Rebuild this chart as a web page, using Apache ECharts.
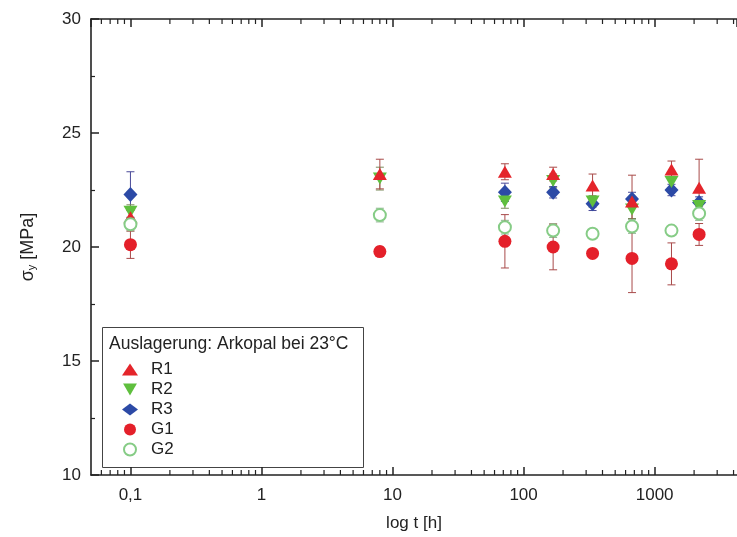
<!DOCTYPE html>
<html>
<head>
<meta charset="utf-8">
<script src="https://cdn.jsdelivr.net/npm/echarts@6/dist/echarts.min.js"></script>
<style>html,body{margin:0;padding:0;background:#fff}#c{width:737px;height:537px}</style>
</head>
<body>
<div id="c"></div>
<script>
const times = [0.1, 8, 72, 168, 336, 672, 1344, 2184];
const R1 = [21.3, 23.2, 23.3, 23.2, 22.7, 22.0, 23.4, 22.6];
const R1err = [0.3, 0.65, 0.35, 0.3, 0.5, 1.15, 0.37, 1.25];
const R2 = [21.55, 23.0, 22.0, 22.9, 22.0, 21.65, 22.85, 21.8];
const R2err = [0.3, 0.5, 0.3, 0.3, 0.25, 0.4, 0.25, 0.25];
const R3 = [22.3, null, 22.4, 22.4, 21.9, 22.1, 22.5, 21.95];
const R3err = [1.0, null, 0.4, 0.25, 0.3, 0.3, 0.25, 0.25];
const G1 = [20.1, 19.8, 20.25, 20.0, 19.72, 19.5, 19.26, 20.55];
const G1err = [0.6, 0.2, 1.17, 1.0, 0.15, 1.5, 0.92, 0.48];
const G2 = [21.0, 21.4, 20.87, 20.72, 20.58, 20.9, 20.72, 21.47];
const G2err = [0.3, 0.3, 0.3, 0.3, 0.2, 0.3, 0.2, 0.3];
const xTickLabels = {0.1: '0,1', 1: '1', 10: '10', 100: '100', 1000: '1000'};
const yTicks = [10, 15, 20, 25, 30];
const legendTitle = 'Auslagerung: Arkopal bei 23°C';

const XMIN = 0.05, XMAX = 4250, YMIN = 10, YMAX = 30;
const FONT = '"Liberation Sans", Arial, sans-serif';
const DOWN_TRI = 'path://M0,0 L10,0 L5,8.66 Z';

// minor tick positions (2..9 per decade) for the log axis
const minorTicks = [];
[0.01, 0.1, 1, 10, 100, 1000].forEach(d => {
  for (let m = 2; m <= 9; m++) {
    const v = +(d * m).toPrecision(3);
    if (v > XMIN && v < XMAX) minorTicks.push([v, YMIN]);
  }
});

function pts(vals) {
  return times.map((t, i) => vals[i] == null ? null : [t, vals[i]]).filter(Boolean);
}
function errs(vals, e) {
  return times.map((t, i) => vals[i] == null ? null : [t, vals[i] - e[i], vals[i] + e[i]]).filter(Boolean);
}
function errSeries(vals, e, color) {
  return {
    type: 'custom', silent: true, z: 1,
    data: errs(vals, e),
    renderItem: function (params, api) {
      const x = api.value(0);
      const lo = api.coord([x, api.value(1)]);
      const hi = api.coord([x, api.value(2)]);
      const w = 4;
      const st = {stroke: color, lineWidth: 1};
      return {type: 'group', children: [
        {type: 'line', shape: {x1: lo[0], y1: lo[1], x2: hi[0], y2: hi[1]}, style: st},
        {type: 'line', shape: {x1: lo[0] - w, y1: lo[1], x2: lo[0] + w, y2: lo[1]}, style: st},
        {type: 'line', shape: {x1: hi[0] - w, y1: hi[1], x2: hi[0] + w, y2: hi[1]}, style: st}
      ]};
    }
  };
}

const chart = echarts.init(document.getElementById('c'), null, {renderer: 'canvas'});
const axisLineStyle = {color: '#222', width: 1.6};
const option = {
  backgroundColor: '#fff',
  animation: false,
  textStyle: {fontFamily: FONT},
  grid: {left: 91, top: 19, right: 0, height: 457, containLabel: false},
  xAxis: [{
    type: 'log', logBase: 10, min: XMIN, max: XMAX, position: 'bottom',
    name: 'log t [h]', nameLocation: 'middle', nameGap: 40,
    nameTextStyle: {fontSize: 17, color: '#222', fontFamily: FONT},
    axisLine: {show: true, onZero: false, lineStyle: axisLineStyle},
    axisTick: {show: true, inside: true, length: 8, lineStyle: {color: '#222', width: 1.5}},
    minorTick: {show: false},
    splitLine: {show: false},
    axisLabel: {fontSize: 17, color: '#222', margin: 12, fontFamily: FONT,
      showMinLabel: false, showMaxLabel: false,
      formatter: v => xTickLabels[+(+v).toPrecision(6)] || ''}
  }, {
    type: 'log', logBase: 10, min: XMIN, max: XMAX, position: 'top',
    axisLine: {show: true, onZero: false, lineStyle: axisLineStyle},
    axisTick: {show: true, inside: true, length: 8, lineStyle: {color: '#222', width: 1.5}},
    axisLabel: {show: false}, splitLine: {show: false}
  }],
  yAxis: [{
    type: 'value', min: YMIN, max: YMAX, interval: 5, position: 'left',
    name: 'σ{sub|y} [MPa]', nameLocation: 'middle', nameGap: 54, nameRotate: 90,
    nameTextStyle: {fontSize: 18, color: '#222', fontFamily: FONT,
      rich: {sub: {fontSize: 11, verticalAlign: 'bottom', padding: [7, 0, 0, 0], color: '#222'}}},
    axisLine: {show: true, onZero: false, lineStyle: axisLineStyle},
    axisTick: {show: true, inside: true, length: 8, lineStyle: {color: '#222', width: 1.5}},
    minorTick: {show: true, splitNumber: 2, length: 4, lineStyle: {color: '#222', width: 1.2}},
    splitLine: {show: false},
    axisLabel: {fontSize: 17, color: '#222', margin: 10, fontFamily: FONT,
      formatter: v => yTicks.indexOf(v) >= 0 ? String(v) : ''}
  }],
  legend: {
    data: ['R1', 'R2', 'R3', 'G1', 'G2'],
    orient: 'vertical', left: 117, top: 356,
    itemWidth: 16, itemHeight: 12, itemGap: 3,
    textStyle: {fontSize: 17, color: '#222', lineHeight: 17, fontFamily: FONT, padding: [0, 0, 0, 8]},
    selectedMode: false
  },
  graphic: [
    {type: 'rect', left: 102, top: 327, shape: {width: 261, height: 140},
      style: {fill: 'rgba(255,255,255,0)', stroke: '#444', lineWidth: 1}, z: 0},
    {type: 'text', left: 109, top: 335,
      style: {text: legendTitle, fontSize: 17.5, fill: '#222', fontFamily: FONT}, z: 10}
  ],
  series: [
    {type: 'custom', silent: true, z: 5, clip: false, data: minorTicks,
      renderItem: function (params, api) {
        const v = api.value(0);
        const b = api.coord([v, YMIN]);
        const t = api.coord([v, YMAX]);
        const st = {stroke: '#222', lineWidth: 1.2};
        return {type: 'group', children: [
          {type: 'line', shape: {x1: b[0], y1: b[1], x2: b[0], y2: b[1] - 5}, style: st},
          {type: 'line', shape: {x1: t[0], y1: t[1], x2: t[0], y2: t[1] + 5}, style: st}
        ]};
      }},
    errSeries(R3, R3err, '#4a4a98'),
    errSeries(R2, R2err, '#7a8a5a'),
    errSeries(R1, R1err, '#a84a48'),
    errSeries(G2, G2err, '#8fb08f'),
    errSeries(G1, G1err, '#a84a4a'),
    {name: 'R3', type: 'scatter', data: pts(R3), symbol: 'diamond', symbolSize: [14, 15], z: 3,
      itemStyle: {color: '#2c4aa6', opacity: 1}},
    {name: 'R2', type: 'scatter', data: pts(R2), symbol: DOWN_TRI, symbolSize: [14, 12], z: 3,
      itemStyle: {color: '#5fbf3e', opacity: 1}},
    {name: 'R1', type: 'scatter', data: pts(R1), symbol: 'triangle', symbolSize: [14, 12], z: 3,
      itemStyle: {color: '#e4252b', opacity: 1}},
    {name: 'G2', type: 'scatter', data: pts(G2), symbol: 'emptyCircle', symbolSize: 12, z: 3,
      itemStyle: {color: '#86cc86', borderColor: '#86cc86', borderWidth: 1.5, opacity: 1}},
    {name: 'G1', type: 'scatter', data: pts(G1), symbol: 'circle', symbolSize: 13, z: 3,
      itemStyle: {color: '#e4202a', opacity: 1}}
  ]
};
chart.setOption(option);
</script>
</body>
</html>
